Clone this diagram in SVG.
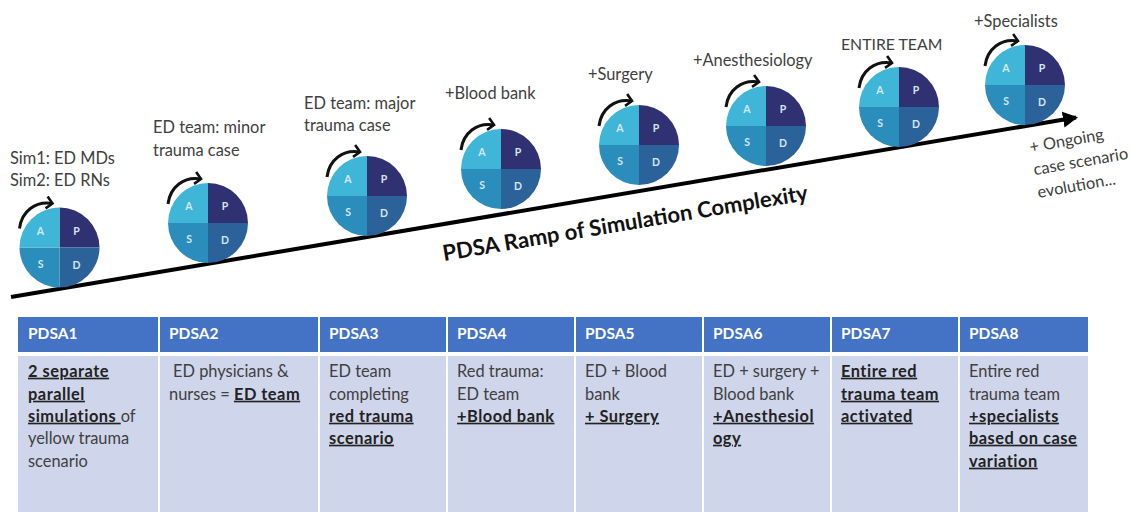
<svg xmlns="http://www.w3.org/2000/svg" width="1130" height="512" viewBox="0 0 1130 512">
<style>
text{font-family:"Lato","Noto Sans","Liberation Sans",sans-serif;fill:#404040}
.lbl{font-size:16.400px;transform:translateY(.7px)}
.q{font-size:10.500px;font-weight:700;fill:#d5e6f0;text-anchor:middle}
.h{font-size:15.500px;font-weight:700;fill:#fff}
.c{font-size:16.400px;transform:translateY(.7px)}
.b{font-weight:700;text-decoration:underline;fill:#222;letter-spacing:.5px}
.hd{fill:#4472c4}
.bd{fill:#cfd5ea}
.rot{fill:none;stroke:#111;stroke-width:3}
</style>
<defs>
<marker id="ah" markerUnits="userSpaceOnUse" markerWidth="16" markerHeight="18" refX="13" refY="9" orient="auto"><path d="M0 1L15 9L0 17Z" fill="#000"/></marker>
<marker id="rh" markerUnits="userSpaceOnUse" markerWidth="10" markerHeight="14" refX="7" refY="7" orient="auto"><path d="M1 1L7 7L1 13" fill="none" stroke="#111" stroke-width="2.600"/></marker>
<g id="pdsa">
<path d="M0 0V-40A40 40 0 0 1 40 0Z" fill="#2f3172"/>
<path d="M0 0H40A40 40 0 0 1 0 40Z" fill="#2a6299"/>
<path d="M0 0V40A40 40 0 0 1 -40 0Z" fill="#2b8dbb"/>
<path d="M0 0H-40A40 40 0 0 1 0 -40Z" fill="#3fb6d7"/>
<text class="q" x="-19" y="-13">A</text>
<text class="q" x="17" y="-13">P</text>
<text class="q" x="-19" y="20">S</text>
<text class="q" x="17" y="21">D</text>
<path class="rot" d="M-40 -19C-38 -36 -24 -47 -7 -44" marker-end="url(#rh)"/>
</g>
</defs>
<g id="connectors">
<path d="M11 297L1076 117.500" fill="none" stroke="#000" stroke-width="4" marker-end="url(#ah)"/>
</g>
<g id="ramp-title"><text transform="translate(444 261) rotate(-9.500)" font-size="22" font-weight="700" style="fill:#111">PDSA Ramp of Simulation Complexity</text></g>
<g id="node1"><use href="#pdsa" x="59.500" y="247.500"/><text class="lbl" x="10" y="163">Sim1: ED MDs</text><text class="lbl" x="10" y="185">Sim2: ED RNs</text></g>
<g id="node2"><use href="#pdsa" x="208" y="223"/><text class="lbl" x="153" y="132">ED team: minor</text><text class="lbl" x="153" y="155">trauma case</text></g>
<g id="node3"><use href="#pdsa" x="367" y="196"/><text class="lbl" x="304" y="108">ED team: major</text><text class="lbl" x="304" y="130">trauma case</text></g>
<g id="node4"><use href="#pdsa" x="501" y="169"/><text class="lbl" x="445" y="98">+Blood bank</text></g>
<g id="node5"><use href="#pdsa" x="639" y="145"/><text class="lbl" x="588" y="79">+Surgery</text></g>
<g id="node6"><use href="#pdsa" x="766" y="126"/><text class="lbl" x="693" y="65">+Anesthesiology</text></g>
<g id="node7"><use href="#pdsa" x="899" y="107"/><text class="lbl" x="841" y="49" style="font-size:15.800px">ENTIRE TEAM</text></g>
<g id="node8"><use href="#pdsa" x="1025" y="85"/><text class="lbl" x="974" y="26">+Specialists</text></g>
<g id="ongoing" transform="rotate(-10 1030 150)"><text class="lbl" x="1030" y="152">+ Ongoing</text><text class="lbl" x="1030" y="175">case scenario</text><text class="lbl" x="1030" y="198">evolution...</text></g>
<g id="col1"><rect class="hd" x="18" y="317" width="140" height="35"/><rect class="bd" x="18" y="356" width="140" height="156"/><text class="h" x="28" y="339">PDSA1</text>
<text class="c" x="28" y="376"><tspan class="b">2 separate</tspan></text><text class="c" x="28" y="399"><tspan class="b">parallel</tspan></text><text class="c" x="28" y="421"><tspan class="b">simulations </tspan>of</text><text class="c" x="28" y="443">yellow trauma</text><text class="c" x="28" y="466">scenario</text></g>
<g id="col2"><rect class="hd" x="160" y="317" width="158" height="35"/><rect class="bd" x="160" y="356" width="158" height="156"/><text class="h" x="169" y="339">PDSA2</text>
<text class="c" x="173" y="376">ED physicians &amp;</text><text class="c" x="169" y="399">nurses = <tspan class="b">ED team</tspan></text></g>
<g id="col3"><rect class="hd" x="320" y="317" width="126" height="35"/><rect class="bd" x="320" y="356" width="126" height="156"/><text class="h" x="329" y="339">PDSA3</text>
<text class="c" x="329" y="376">ED team</text><text class="c" x="329" y="399">completing</text><text class="c" x="329" y="421"><tspan class="b">red trauma</tspan></text><text class="c" x="329" y="443"><tspan class="b">scenario</tspan></text></g>
<g id="col4"><rect class="hd" x="448" y="317" width="126" height="35"/><rect class="bd" x="448" y="356" width="126" height="156"/><text class="h" x="457" y="339">PDSA4</text>
<text class="c" x="457" y="376">Red trauma:</text><text class="c" x="457" y="399">ED team</text><text class="c" x="457" y="421"><tspan class="b">+Blood bank</tspan></text></g>
<g id="col5"><rect class="hd" x="576" y="317" width="126" height="35"/><rect class="bd" x="576" y="356" width="126" height="156"/><text class="h" x="585" y="339">PDSA5</text>
<text class="c" x="585" y="376">ED + Blood</text><text class="c" x="585" y="399">bank</text><text class="c" x="585" y="421"><tspan class="b">+ Surgery</tspan></text></g>
<g id="col6"><rect class="hd" x="704" y="317" width="126" height="35"/><rect class="bd" x="704" y="356" width="126" height="156"/><text class="h" x="713" y="339">PDSA6</text>
<text class="c" x="713" y="376">ED + surgery +</text><text class="c" x="713" y="399">Blood bank</text><text class="c" x="713" y="421"><tspan class="b">+Anesthesiol</tspan></text><text class="c" x="713" y="443"><tspan class="b">ogy</tspan></text></g>
<g id="col7"><rect class="hd" x="832" y="317" width="126" height="35"/><rect class="bd" x="832" y="356" width="126" height="156"/><text class="h" x="841" y="339">PDSA7</text>
<text class="c" x="841" y="376"><tspan class="b">Entire red</tspan></text><text class="c" x="841" y="399"><tspan class="b">trauma team</tspan></text><text class="c" x="841" y="421"><tspan class="b">activated</tspan></text></g>
<g id="col8"><rect class="hd" x="960" y="317" width="128" height="35"/><rect class="bd" x="960" y="356" width="128" height="156"/><text class="h" x="969" y="339">PDSA8</text>
<text class="c" x="969" y="376">Entire red</text><text class="c" x="969" y="399">trauma team</text><text class="c" x="969" y="421"><tspan class="b">+specialists</tspan></text><text class="c" x="969" y="443"><tspan class="b">based on case</tspan></text><text class="c" x="969" y="466"><tspan class="b">variation</tspan></text></g>
</svg>
